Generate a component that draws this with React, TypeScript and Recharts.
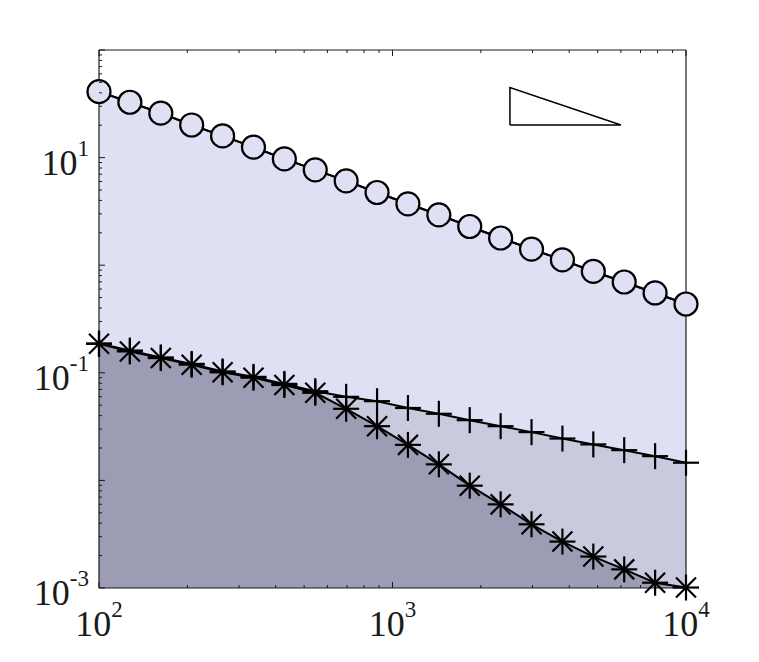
import React from 'react';
import { ComposedChart, Line, Area, XAxis, YAxis } from 'recharts';

// x positions: 20 log-spaced samples between 1e2 and 1e4
const xs = [100, 127.4, 162.4, 206.9, 263.7, 336.0, 428.1, 545.6, 695.2, 885.9, 1128.8, 1438.4, 1833.0, 2335.7, 2976.4, 3792.7, 4832.9, 6158.5, 7847.6, 10000];
const circleVals = [41.0, 32.7, 25.9, 20.1, 15.9, 12.5, 9.73, 7.69, 6.08, 4.74, 3.72, 2.94, 2.29, 1.79, 1.41, 1.12, 0.875, 0.698, 0.552, 0.436];
const plusVals = [0.187, 0.161, 0.139, 0.121, 0.103, 0.0917, 0.0789, 0.0674, 0.0598, 0.0545, 0.0471, 0.0416, 0.0363, 0.0319, 0.0281, 0.0245, 0.0216, 0.0191, 0.0168, 0.0146];
const starVals = [0.186, 0.158, 0.137, 0.119, 0.101, 0.090, 0.077, 0.0652, 0.0463, 0.0319, 0.0214, 0.0141, 0.00893, 0.00599, 0.00391, 0.0027, 0.00196, 0.00149, 0.00112, 0.00101];

// slope triangle corners
const triX = [2513, 2513, 6004, 2513];
const triY = [20.1, 44.7, 20.1, 20.1];

const xDecades = [100, 1000, 10000];
const yDecades = [0.001, 0.01, 0.1, 1, 10, 100];
const yLabelled = [0.001, 0.1, 10];
const xLabelled = [100, 1000, 10000];
const mantissas = [2, 3, 4, 5, 6, 7, 8, 9];

const xTicks = xDecades.flatMap((d, i) => (i < xDecades.length - 1 ? [d, ...mantissas.map((m) => d * m)] : [d]));
const yTicks = yDecades.flatMap((d, i) => (i < yDecades.length - 1 ? [d, ...mantissas.map((m) => d * m)] : [d]));

const data = xs.map((x, i) => ({ x, circ: circleVals[i], plus: plusVals[i], star: starVals[i] }));
const triData = triX.map((x, i) => ({ x, y: triY[i] }));

const INK = '#1a1a1a';
const FONT = "'Liberation Serif', 'DejaVu Serif', serif";
const LIGHT = '#dfe0f4';
const MID = '#c9cadd';
const DARK = '#9c9db4';

const isDecade = (v: number) => {
  const l = Math.log10(v);
  return Math.abs(l - Math.round(l)) < 1e-6;
};
const has = (arr: number[], v: number) => arr.some((a) => Math.abs(a - v) / a < 1e-6);

const Pow = ({ x, y, exp, anchor }: { x: number; y: number; exp: number; anchor: 'end' | 'middle' }) => (
  <text x={x} y={y} textAnchor={anchor} fill={INK} style={{ fontFamily: FONT, fontSize: 36 }}>
    10
    <tspan dy={-19} style={{ fontSize: 23 }}>{exp < 0 ? `-${-exp}` : exp}</tspan>
  </text>
);

const LeftTick = (props: any) => {
  const { x, y, payload } = props;
  const v = payload.value;
  const len = isDecade(v) ? 6 : 3;
  return (
    <g>
      <line x1={x} x2={x + len} y1={y} y2={y} stroke={INK} />
      {has(yLabelled, v) && <Pow x={x - 10} y={y + 17} exp={Math.round(Math.log10(v))} anchor="end" />}
    </g>
  );
};

const RightTick = (props: any) => {
  const { x, y, payload } = props;
  const len = isDecade(payload.value) ? 6 : 3;
  return <line x1={x} x2={x - len} y1={y} y2={y} stroke={INK} />;
};

const BottomTick = (props: any) => {
  const { x, y, payload } = props;
  const v = payload.value;
  const len = isDecade(v) ? 6 : 3;
  return (
    <g>
      <line x1={x} x2={x} y1={y} y2={y - len} stroke={INK} />
      {has(xLabelled, v) && <Pow x={x} y={y + 48} exp={Math.round(Math.log10(v))} anchor="middle" />}
    </g>
  );
};

const TopTick = (props: any) => {
  const { x, y, payload } = props;
  const len = isDecade(payload.value) ? 6 : 3;
  return <line x1={x} x2={x} y1={y} y2={y + len} stroke={INK} />;
};

const CircleDot = (p: any) => (
  <circle key={`c${p.index}`} cx={p.cx} cy={p.cy} r={11.5} fill={LIGHT} stroke="#000" strokeWidth={2.2} />
);

const PlusDot = (p: any) => (
  <g key={`p${p.index}`} stroke="#000" strokeWidth={2.2}>
    <line x1={p.cx - 13} x2={p.cx + 13} y1={p.cy} y2={p.cy} />
    <line x1={p.cx} x2={p.cx} y1={p.cy - 13} y2={p.cy + 13} />
  </g>
);

const StarDot = (p: any) => (
  <g key={`s${p.index}`} stroke="#000" strokeWidth={2.2}>
    <line x1={p.cx - 13} x2={p.cx + 13} y1={p.cy} y2={p.cy} />
    <line x1={p.cx} x2={p.cx} y1={p.cy - 13} y2={p.cy + 13} />
    <line x1={p.cx - 10} x2={p.cx + 10} y1={p.cy - 10} y2={p.cy + 10} />
    <line x1={p.cx - 10} x2={p.cx + 10} y1={p.cy + 10} y2={p.cy - 10} />
  </g>
);

export default function App() {
  const axisLine = { stroke: INK, strokeWidth: 1.2 };
  return (
    <div style={{ position: 'absolute', left: 0, top: 0, background: '#fff' }}>
      <ComposedChart width={759} height={662} data={data} margin={{ top: 20, right: 13, bottom: 14, left: 19 }}>
        <XAxis
          xAxisId={0}
          dataKey="x"
          type="number"
          scale="log"
          domain={[100, 10000]}
          ticks={xTicks}
          interval={0}
          tickSize={0}
          tickMargin={0}
          tickLine={false}
          axisLine={axisLine}
          tick={<BottomTick />}
          height={60}
        />
        <XAxis
          xAxisId="top"
          orientation="top"
          dataKey="x"
          type="number"
          scale="log"
          domain={[100, 10000]}
          ticks={xTicks}
          interval={0}
          tickSize={0}
          tickMargin={0}
          tickLine={false}
          axisLine={axisLine}
          tick={<TopTick />}
          height={30}
        />
        <YAxis
          yAxisId={0}
          type="number"
          scale="log"
          domain={[0.001, 100]}
          ticks={yTicks}
          interval={0}
          tickSize={0}
          tickMargin={0}
          tickLine={false}
          axisLine={axisLine}
          tick={<LeftTick />}
          width={80}
        />
        <YAxis
          yAxisId="right"
          orientation="right"
          type="number"
          scale="log"
          domain={[0.001, 100]}
          ticks={yTicks}
          interval={0}
          tickSize={0}
          tickMargin={0}
          tickLine={false}
          axisLine={axisLine}
          tick={<RightTick />}
          width={60}
        />

        <Area dataKey="circ" type="linear" fill={LIGHT} fillOpacity={1} stroke="none" baseValue="dataMin" isAnimationActive={false} />
        <Area dataKey="plus" type="linear" fill={MID} fillOpacity={1} stroke="none" baseValue="dataMin" isAnimationActive={false} />
        <Area dataKey="star" type="linear" fill={DARK} fillOpacity={1} stroke="none" baseValue="dataMin" isAnimationActive={false} />

        <Line dataKey="circ" type="linear" stroke="#000" strokeWidth={2} dot={CircleDot} activeDot={false} isAnimationActive={false} />
        <Line dataKey="circ" type="linear" stroke="#000" strokeWidth={2} dot={false} activeDot={false} isAnimationActive={false} />
        <Line dataKey="plus" type="linear" stroke="#000" strokeWidth={2} dot={PlusDot} activeDot={false} isAnimationActive={false} />
        <Line dataKey="star" type="linear" stroke="#000" strokeWidth={2} dot={StarDot} activeDot={false} isAnimationActive={false} />

        <Line data={triData} dataKey="y" type="linear" stroke="#000" strokeWidth={1.5} dot={false} activeDot={false} isAnimationActive={false} />
      </ComposedChart>
    </div>
  );
}
